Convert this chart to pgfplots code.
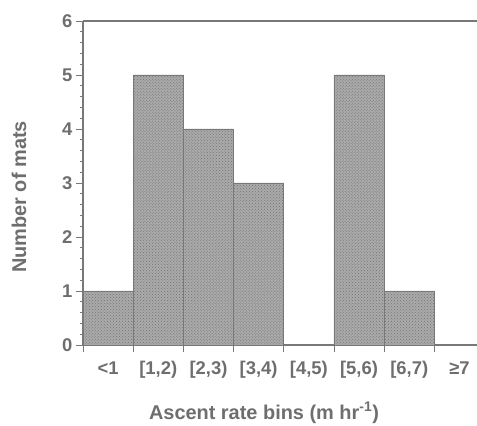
\documentclass[border=0pt]{standalone}
\usepackage{pgfplots}
\pgfplotsset{compat=1.18}
\usetikzlibrary{patterns}
\usepackage{fontspec}
\setmainfont{Liberation Sans}
\definecolor{txt}{RGB}{110,110,110}
\definecolor{axc}{RGB}{120,120,120}
\definecolor{barfill}{RGB}{170,170,170}
\begin{document}
\begin{tikzpicture}
\useasboundingbox (0,0) rectangle (477bp,426bp);
\begin{axis}[
  at={(83bp,81bp)}, anchor=south west,
  scale only axis, width=394bp, height=324bp,
  xmin=0, xmax=7.85, ymin=0, ymax=6,
  axis y line*=left,
  /pgf/number format/assume math mode=true,
  xtick={0,...,7}, xticklabels={},
  extra x ticks={0.5,1.5,2.5,3.5,4.5,5.5,6.5,7.5},
  extra x tick labels={{<1},{[1,2)},{[2,3)},{[3,4)},{[4,5)},{[5,6)},{[6,7)},{≥7}},
  extra x tick style={major tick length=0pt, grid=none, xticklabel style={yshift=-13bp}},
  ytick={0,...,6}, minor y tick num=4,
  xtick pos=bottom, ytick pos=left,
  tick align=outside, major tick length=7bp, minor tick length=3bp,
  tick style={axc, line width=0.8bp},
  axis line style={axc, line width=1.1bp},
  ticklabel style={font=\fontsize{18.5}{21}\selectfont\bfseries, text=txt},
  clip=false,
]
\addplot[ybar, bar width=1, bar shift=0, fill=barfill, draw=axc, line width=0.9bp,
  postaction={pattern=crosshatch dots, pattern color=black!55}]
  coordinates {(0.5,1)(1.5,5)(2.5,4)(3.5,3)(5.5,5)(6.5,1)};
\end{axis}
\node[rotate=90, text=txt, font=\fontsize{20}{23}\selectfont\bfseries] at (19bp,229bp) {Number of mats};
\node[text=txt, font=\fontsize{20}{23}\selectfont\bfseries] at (264bp,13bp) {Ascent rate bins (m hr\textsuperscript{-1})};
\end{tikzpicture}
\end{document}
